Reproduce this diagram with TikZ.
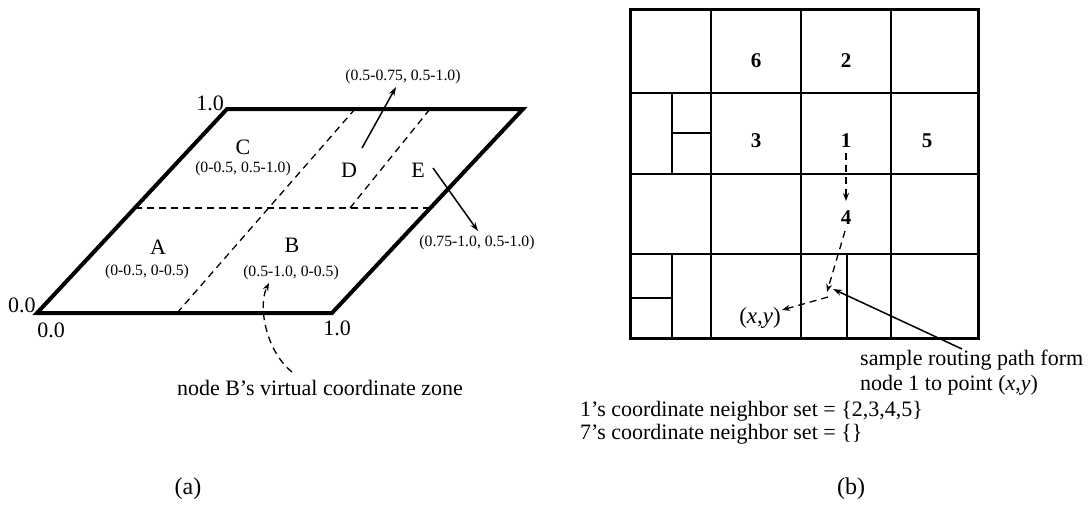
\documentclass[tikz,border=0pt]{standalone}
\usepackage{fontspec}
\setmainfont{Liberation Serif}
\usetikzlibrary{arrows.meta}
\begin{document}
\begin{tikzpicture}[x=1pt,y=-1pt,
  thickline/.style={line width=4pt, line join=miter},
  dashline/.style={line width=1.3pt, dash pattern=on 7pt off 5pt},
  gridouter/.style={line width=3pt},
  gridinner/.style={line width=1.8pt},
  lbl/.style={font=\fontsize{22}{25}\selectfont, inner sep=0pt},
  small/.style={font=\fontsize{15.7}{17}\selectfont, inner sep=0pt},
  num/.style={font=\fontsize{21}{23}\selectfont\bfseries, inner sep=0pt},
  arr/.style={line width=1.5pt, -{Stealth[length=9pt,width=6pt]}},
  darr/.style={dashline, -{Stealth[length=8pt,width=6pt]}}]
\useasboundingbox (0,0) rectangle (1089,507);

% ---------------- (a) ----------------
\coordinate (p00) at (37,313);
\coordinate (p10) at (332,313);
\coordinate (p11) at (523,109);
\coordinate (p01) at (227,109);
\coordinate (ml) at (135,208);
\coordinate (mr) at (429,208);
\coordinate (s1b) at (177,313);
\coordinate (s1t) at (355,109);
\coordinate (s2b) at (350,208);
\coordinate (s2t) at (430,109);

\draw[dashline] (ml) -- (mr);
\draw[dashline] (s1b) -- (s1t);
\draw[dashline] (s2b) -- (s2t);
\draw[thickline] (p00) -- (p10) -- (p11) -- (p01) -- cycle;

\node[lbl] (t10) at (210,103) {1.0};
\node[lbl] (l00) at (22,305) {0.0};
\node[lbl] (b00) at (51,330) {0.0};
\node[lbl] (b10) at (337,328) {1.0};

\node[lbl] (zC) at (243,147) {C};
\node[small] (cC) at (243,169) {(0-0.5, 0.5-1.0)};
\node[lbl] (zA) at (158,247) {A};
\node[small] (cA) at (147,272) {(0-0.5, 0-0.5)};
\node[lbl] (zB) at (292,245) {B};
\node[small] (cB) at (291,273) {(0.5-1.0, 0-0.5)};
\node[lbl] (zD) at (349,170) {D};
\node[lbl] (zE) at (418,170) {E};
\node[small] (cD) at (403,77) {(0.5-0.75, 0.5-1.0)};
\node[small] (cE) at (477,243) {(0.75-1.0, 0.5-1.0)};

\coordinate (dS) at (362,148);
\coordinate (dT) at (396,87);
\coordinate (eS) at (433,168);
\coordinate (eT) at (478,231);
\draw[arr] (dS) -- (dT);
\draw[arr] (eS) -- (eT);

\node[lbl] (zone) at (320,388) {node B’s virtual coordinate zone};
\coordinate (zS) at (292,372);
\coordinate (zT) at (269,283);
\draw[darr] (zS) .. controls (265,350) and (258,305) .. (zT);

\node[font=\fontsize{24}{26}\selectfont, inner sep=0pt] (capa) at (188,489) {(a)};

% ---------------- (b) ----------------
\draw[gridinner] (711,9) -- (711,338);
\draw[gridinner] (801,9) -- (801,338);
\draw[gridinner] (891,9) -- (891,338);
\draw[gridinner] (630,93) -- (978,93);
\draw[gridinner] (630,174) -- (978,174);
\draw[gridinner] (630,254) -- (978,254);
\draw[gridinner] (672,93) -- (672,174);
\draw[gridinner] (672,133) -- (711,133);
\draw[gridinner] (672,254) -- (672,338);
\draw[gridinner] (630,298) -- (672,298);
\draw[gridinner] (847,254) -- (847,338);
\draw[gridouter] (630,9) rectangle (978,338);

\node[num] (n6) at (756,61) {6};
\node[num] (n2) at (846,61) {2};
\node[num] (n3) at (756,141) {3};
\node[num] (n1) at (846,141) {1};
\node[num] (n5) at (927,141) {5};
\node[num] (n4) at (846,218) {4};

\node[font=\fontsize{23}{25}\selectfont, inner sep=0pt] (pxy) at (760,318) {(\textit{x},\textit{y})};

\coordinate (r1) at (846,153);
\coordinate (r1t) at (846,201);
\coordinate (r2) at (845,231);
\coordinate (r2t) at (827,292);
\coordinate (r3) at (828,297);
\coordinate (r3t) at (782,310);
\draw[darr] (r1) -- (r1t);
\draw[darr] (r2) -- (r2t);
\draw[darr] (r3) -- (r3t);

\node[lbl, anchor=west] (s1) at (860,360) {sample routing path form};
\node[lbl, anchor=west] (s2) at (860,385) {node 1 to point (\textit{x},\textit{y})};
\coordinate (aS) at (962,349);
\coordinate (aT) at (833,289);
\draw[arr] (aS) -- (aT);

\node[lbl, anchor=west] (ns1) at (580,411) {1’s coordinate neighbor set = \{2,3,4,5\}};
\node[lbl, anchor=west] (ns7) at (580,434) {7’s coordinate neighbor set = \{\}};

\node[font=\fontsize{24}{26}\selectfont, inner sep=0pt] (capb) at (851,489) {(b)};
\end{tikzpicture}
\end{document}
